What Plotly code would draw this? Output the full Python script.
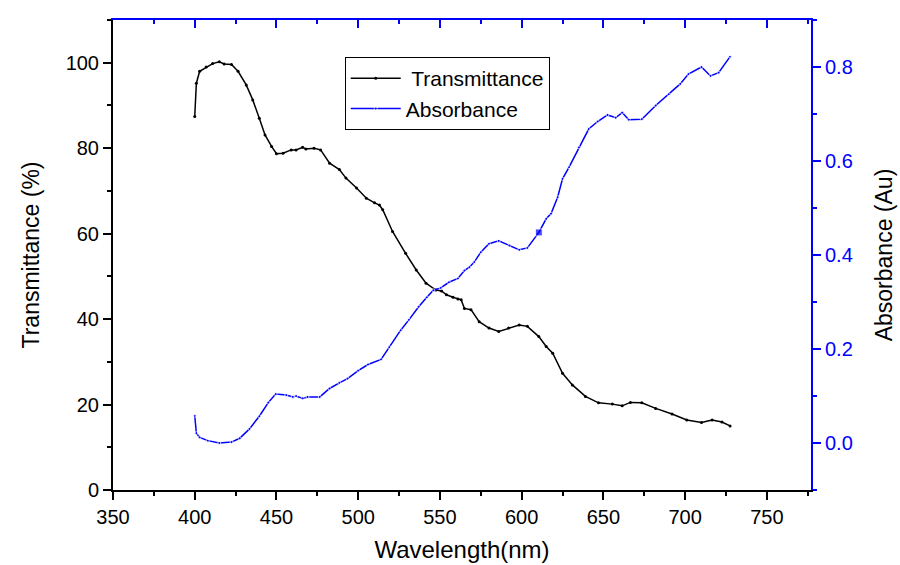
import plotly.graph_objects as go

# Transmittance data (wavelength nm, %)
wl_t = [400, 401, 403, 407, 411, 415, 418, 422.5, 426.5, 431.5, 435.5, 439.5, 443, 447, 450,
        454, 459, 462, 466, 468, 473, 477, 482.5, 488.5, 492.5, 499, 505, 510, 513, 515,
        521, 529, 535.5, 541.5, 547.5, 551, 554, 558, 561, 563, 565, 569, 574, 580, 586,
        592, 598.5, 603.5, 610.5, 615, 619, 625, 631, 639, 647, 655.5, 661.5, 666.5, 673.5,
        682, 692, 701, 710, 716.5, 722.5, 727.5]
trans = [87.4, 95.2, 98.0, 99.0, 99.8, 100.2, 99.7, 99.6, 98.0, 94.8, 91.3, 87.0, 83.1, 80.4, 78.7,
         78.8, 79.6, 79.6, 80.2, 79.8, 80.0, 79.6, 76.5, 75.0, 73.0, 70.7, 68.3, 67.2, 66.7, 65.6,
         60.5, 55.4, 51.5, 48.4, 46.8, 46.6, 45.7, 45.1, 44.7, 44.5, 42.5, 42.2, 39.4, 37.9, 37.1,
         37.9, 38.6, 38.3, 35.9, 33.6, 32.0, 27.3, 24.6, 21.9, 20.4, 20.1, 19.7, 20.5, 20.4,
         19.1, 17.8, 16.4, 15.8, 16.4, 15.9, 15.0]

# Absorbance data (wavelength nm, Au)
wl_a = [400, 401, 403, 408, 415, 422.5, 427.5, 433.5, 439.5, 445, 449.5, 456, 460, 462, 466,
        469, 476.5, 482.5, 488.5, 493.5, 500, 506, 514, 519, 526, 531, 537, 542, 546, 550.5,
        555.5, 561, 565, 568, 571, 575, 580, 586, 592.5, 598.5, 603.5, 610.5, 615, 618, 622,
        625, 629, 635, 641, 646.5, 652.5, 657.5, 661.5, 665.5, 673.5, 682, 690, 697, 702,
        710, 715.5, 720.5, 727.5]
absb = [0.058, 0.021, 0.012, 0.005, 0.000, 0.002, 0.010, 0.030, 0.057, 0.086, 0.104, 0.102, 0.098, 0.100, 0.095,
        0.098, 0.098, 0.116, 0.128, 0.137, 0.154, 0.167, 0.178, 0.204, 0.240, 0.262, 0.290, 0.310, 0.325, 0.330,
        0.342, 0.350, 0.367, 0.374, 0.385, 0.406, 0.424, 0.430, 0.420, 0.411, 0.415, 0.448, 0.477, 0.488, 0.523,
        0.562, 0.587, 0.629, 0.668, 0.684, 0.698, 0.692, 0.703, 0.688, 0.689, 0.718, 0.742, 0.764, 0.785,
        0.800, 0.781, 0.788, 0.822]

x_ticks = [350, 400, 450, 500, 550, 600, 650, 700, 750]
yl_ticks = [0, 20, 40, 60, 80, 100]
yr_ticks = [0.0, 0.2, 0.4, 0.6, 0.8]

FONT = "Liberation Sans, Arial, sans-serif"
BLUE = "#0000ff"

a_sizes = [7 if w == 610.5 else 3 for w in wl_a]
a_symbols = ["square" if w == 610.5 else "circle" for w in wl_a]

fig = go.Figure()
fig.add_trace(go.Scatter(
    x=wl_t, y=trans, name=" Transmittance", mode="lines+markers",
    line=dict(color="black", width=1.5), marker=dict(color="black", size=3),
    xaxis="x", yaxis="y"))
fig.add_trace(go.Scatter(
    x=wl_a, y=absb, name="Absorbance", mode="lines+markers",
    line=dict(color=BLUE, width=1.5), marker=dict(color=BLUE, size=a_sizes, symbol=a_symbols),
    xaxis="x2", yaxis="y2"))

fig.update_layout(
    width=900, height=565,
    margin=dict(l=113, r=89, t=20, b=75),
    paper_bgcolor="white", plot_bgcolor="white",
    font=dict(family=FONT, size=20, color="black"),
    showlegend=True,
    legend=dict(x=0.332, y=0.921, xanchor="left", yanchor="top",
                bordercolor="black", borderwidth=1, bgcolor="white",
                font=dict(size=21, family=FONT), tracegroupgap=0, itemwidth=50),
    xaxis=dict(range=[350, 777], tickvals=x_ticks, showgrid=False, zeroline=False,
               showline=True, linecolor="black", linewidth=2, automargin=False,
               ticks="outside", ticklen=8, tickwidth=2, tickcolor="black",
               minor=dict(dtick=25, tick0=350, ticks="outside", ticklen=4, tickwidth=2, tickcolor="black"),
               tickfont=dict(size=20, color="black"),
               title=dict(text="Wavelength(nm)", font=dict(size=24), standoff=14),
               anchor="y"),
    xaxis2=dict(range=[350, 777], tickvals=x_ticks, overlaying="x", side="top", anchor="y2",
                showgrid=False, zeroline=False, showline=True, linecolor=BLUE, linewidth=2,
                automargin=False,
                ticks="inside", ticklen=8, tickwidth=2, tickcolor=BLUE, showticklabels=False,
                minor=dict(dtick=25, tick0=350, ticks="inside", ticklen=4, tickwidth=2, tickcolor=BLUE)),
    yaxis=dict(range=[0, 110], tickvals=yl_ticks, showgrid=False, zeroline=False,
               showline=True, linecolor="black", linewidth=2, automargin=False,
               ticks="outside", ticklen=8, tickwidth=2, tickcolor="black",
               minor=dict(dtick=10, tick0=0, ticks="outside", ticklen=4, tickwidth=2, tickcolor="black"),
               tickfont=dict(size=20, color="black"),
               title=dict(text="Transmittance (%)", font=dict(size=23), standoff=20)),
    yaxis2=dict(range=[-0.1, 0.9], tickvals=yr_ticks, tickformat=".1f", overlaying="y", side="right",
                anchor="x2", showgrid=False, zeroline=False, automargin=False,
                showline=True, linecolor=BLUE, linewidth=2,
                ticks="outside", ticklen=8, tickwidth=2, tickcolor=BLUE,
                minor=dict(dtick=0.1, tick0=0, ticks="outside", ticklen=4, tickwidth=2, tickcolor=BLUE),
                tickfont=dict(size=20, color=BLUE),
                title=dict(text="Absorbance (Au)", font=dict(size=23, color="black"), standoff=24)),
)

fig.write_html("out.html")
